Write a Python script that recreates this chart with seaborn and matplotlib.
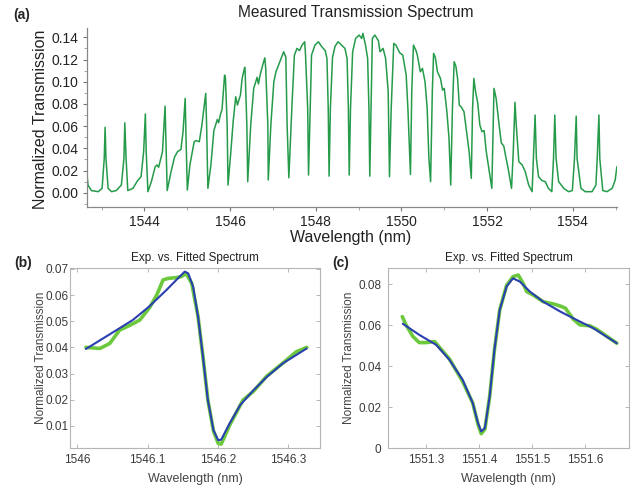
import numpy as np
import pandas as pd
import matplotlib
matplotlib.use("Agg")
import matplotlib.pyplot as plt
import seaborn as sns
from matplotlib.ticker import MultipleLocator

# (a) measured transmission spectrum
spec_wl = [
    1542.65, 1542.68, 1542.76, 1542.92, 1543.01, 1543.06, 1543.08, 1543.10, 1543.15, 1543.23,
    1543.34, 1543.46, 1543.52, 1543.54, 1543.57, 1543.61, 1543.73, 1543.84, 1543.92, 1543.98,
    1544.02, 1544.04, 1544.08, 1544.16, 1544.25, 1544.29, 1544.33, 1544.42, 1544.46, 1544.48,
    1544.50, 1544.53, 1544.62, 1544.70, 1544.77, 1544.85, 1544.90, 1544.95, 1544.97, 1545.00,
    1545.06, 1545.16, 1545.20, 1545.28, 1545.34, 1545.43, 1545.45, 1545.48, 1545.55, 1545.62,
    1545.66, 1545.70, 1545.73, 1545.77, 1545.81, 1545.87, 1545.89, 1545.93, 1545.95, 1546.01,
    1546.07, 1546.13, 1546.17, 1546.24, 1546.28, 1546.34, 1546.35, 1546.39, 1546.41, 1546.48,
    1546.55, 1546.63, 1546.66, 1546.70, 1546.76, 1546.81, 1546.83, 1546.88, 1546.89, 1546.95,
    1547.02, 1547.07, 1547.13, 1547.19, 1547.25, 1547.30, 1547.33, 1547.37, 1547.44, 1547.50,
    1547.56, 1547.62, 1547.68, 1547.74, 1547.76, 1547.81, 1547.83, 1547.87, 1547.90, 1547.98,
    1548.06, 1548.13, 1548.22, 1548.26, 1548.29, 1548.31, 1548.34, 1548.39, 1548.45, 1548.52,
    1548.60, 1548.68, 1548.73, 1548.76, 1548.78, 1548.81, 1548.86, 1548.93, 1549.01, 1549.07,
    1549.10, 1549.16, 1549.21, 1549.24, 1549.26, 1549.29, 1549.32, 1549.38, 1549.46, 1549.50,
    1549.57, 1549.63, 1549.69, 1549.72, 1549.76, 1549.82, 1549.87, 1549.96, 1550.03, 1550.07,
    1550.11, 1550.15, 1550.21, 1550.24, 1550.28, 1550.34, 1550.37, 1550.44, 1550.49, 1550.55,
    1550.60, 1550.64, 1550.68, 1550.72, 1550.75, 1550.79, 1550.84, 1550.91, 1550.96, 1551.00,
    1551.06, 1551.11, 1551.15, 1551.19, 1551.23, 1551.27, 1551.31, 1551.35, 1551.40, 1551.46,
    1551.52, 1551.58, 1551.63, 1551.66, 1551.69, 1551.73, 1551.78, 1551.83, 1551.88, 1551.93,
    1551.98, 1552.04, 1552.11, 1552.16, 1552.21, 1552.28, 1552.33, 1552.39, 1552.43, 1552.49,
    1552.57, 1552.61, 1552.65, 1552.68, 1552.74, 1552.82, 1552.89, 1552.97, 1553.05, 1553.08,
    1553.12, 1553.15, 1553.20, 1553.28, 1553.36, 1553.43, 1553.51, 1553.55, 1553.58, 1553.61,
    1553.67, 1553.79, 1553.90, 1553.99, 1554.04, 1554.08, 1554.10, 1554.19, 1554.29, 1554.45,
    1554.54, 1554.57, 1554.61, 1554.63, 1554.70, 1554.80, 1554.92, 1554.99, 1555.03,
]
spec_tr = [
    0.020, 0.007, 0.002, 0.001, 0.004, 0.031, 0.059, 0.031, 0.004, 0.001,
    0.002, 0.007, 0.031, 0.063, 0.031, 0.002, 0.004, 0.011, 0.0145, 0.037,
    0.071, 0.037, 0.001, 0.010, 0.0235, 0.025, 0.023, 0.037, 0.065, 0.078,
    0.049, 0.002, 0.019, 0.032, 0.037, 0.039, 0.055, 0.085, 0.049, 0.0025,
    0.025, 0.046, 0.047, 0.046, 0.061, 0.0895, 0.061, 0.004, 0.025, 0.056,
    0.061, 0.066, 0.063, 0.070, 0.075, 0.106, 0.103, 0.061, 0.007, 0.034,
    0.064, 0.0865, 0.079, 0.088, 0.103, 0.113, 0.109, 0.061, 0.010, 0.061,
    0.094, 0.104, 0.098, 0.106, 0.115, 0.1215, 0.112, 0.061, 0.0115, 0.061,
    0.100, 0.109, 0.115, 0.121, 0.127, 0.122, 0.061, 0.0135, 0.076, 0.124,
    0.130, 0.128, 0.133, 0.136, 0.124, 0.076, 0.016, 0.076, 0.124, 0.133,
    0.136, 0.132, 0.128, 0.121, 0.076, 0.015, 0.076, 0.122, 0.132, 0.136,
    0.133, 0.130, 0.121, 0.076, 0.016, 0.076, 0.127, 0.139, 0.142, 0.139,
    0.1435, 0.133, 0.121, 0.076, 0.015, 0.076, 0.139, 0.142, 0.137, 0.127,
    0.130, 0.121, 0.091, 0.0145, 0.076, 0.1345, 0.133, 0.126, 0.124, 0.115,
    0.106, 0.076, 0.0165, 0.091, 0.133, 0.128, 0.124, 0.109, 0.112, 0.100,
    0.076, 0.031, 0.010, 0.091, 0.1255, 0.122, 0.109, 0.103, 0.0925, 0.094,
    0.073, 0.049, 0.007, 0.076, 0.118, 0.114, 0.103, 0.079, 0.077, 0.073,
    0.055, 0.037, 0.013, 0.076, 0.103, 0.091, 0.081, 0.061, 0.055, 0.056,
    0.037, 0.022, 0.004, 0.094, 0.085, 0.061, 0.045, 0.042, 0.0335, 0.022,
    0.004, 0.037, 0.0815, 0.061, 0.028, 0.025, 0.019, 0.007, 0.001, 0.031,
    0.070, 0.031, 0.0145, 0.011, 0.010, 0.004, 0.001, 0.031, 0.070, 0.031,
    0.010, 0.004, 0.001, 0.002, 0.031, 0.069, 0.031, 0.004, 0.001, 0.001,
    0.007, 0.031, 0.070, 0.031, 0.002, 0.001, 0.004, 0.0115, 0.0235,
]

# (b) resonance near 1546.2 nm
b_exp_wl = [1546.012, 1546.032, 1546.046, 1546.060, 1546.075, 1546.089, 1546.103, 1546.113,
            1546.122, 1546.129, 1546.141, 1546.148, 1546.155, 1546.163, 1546.172, 1546.179,
            1546.186, 1546.194, 1546.2007, 1546.205, 1546.217, 1546.236, 1546.251, 1546.270,
            1546.293, 1546.312, 1546.327]
b_exp_tr = [0.0400, 0.0396, 0.0415, 0.0466, 0.0485, 0.0505, 0.0553, 0.0600,
            0.0658, 0.0664, 0.0667, 0.0671, 0.0683, 0.0645, 0.0517, 0.0364,
            0.0198, 0.0080, 0.0033, 0.0030, 0.0102, 0.0198, 0.0232, 0.0290,
            0.0340, 0.0383, 0.0400]
b_fit_wl = [1546.012, 1546.0556, 1546.079, 1546.103, 1546.127, 1546.141, 1546.153, 1546.158,
            1546.165, 1546.172, 1546.179, 1546.186, 1546.194, 1546.2007, 1546.205, 1546.217,
            1546.232, 1546.251, 1546.270, 1546.293, 1546.327]
b_fit_tr = [0.0394, 0.0466, 0.0505, 0.0558, 0.0620, 0.0658, 0.0690, 0.0683,
            0.0632, 0.0517, 0.0364, 0.0198, 0.0083, 0.0045, 0.0047, 0.0109,
            0.0179, 0.0236, 0.0287, 0.0339, 0.0396]

# (c) resonance near 1551.4 nm
c_exp_wl = [1551.255, 1551.262, 1551.275, 1551.287, 1551.300, 1551.316, 1551.344, 1551.369,
            1551.388, 1551.398, 1551.404, 1551.411, 1551.420, 1551.429, 1551.439, 1551.452,
            1551.464, 1551.474, 1551.483, 1551.490, 1551.502, 1551.521, 1551.540, 1551.553,
            1551.563, 1551.578, 1551.590, 1551.609, 1551.622, 1551.660]
c_exp_tr = [0.0642, 0.0602, 0.0545, 0.0515, 0.0515, 0.0520, 0.0435, 0.0325,
            0.0220, 0.0115, 0.0070, 0.0092, 0.0252, 0.0480, 0.0675, 0.0795,
            0.0837, 0.0845, 0.0805, 0.0764, 0.0748, 0.0715, 0.0704, 0.0694,
            0.0683, 0.0629, 0.0602, 0.0597, 0.0580, 0.0512]
c_fit_wl = [1551.256, 1551.287, 1551.319, 1551.344, 1551.369, 1551.388, 1551.398, 1551.404,
            1551.411, 1551.420, 1551.429, 1551.439, 1551.452, 1551.464, 1551.477, 1551.496,
            1551.521, 1551.553, 1551.584, 1551.616, 1551.660]
c_fit_tr = [0.0607, 0.0553, 0.0504, 0.0431, 0.0333, 0.0220, 0.0122, 0.0081,
            0.0098, 0.0252, 0.0480, 0.0675, 0.0789, 0.0829, 0.0813, 0.0764,
            0.0715, 0.0667, 0.0626, 0.0585, 0.0512]

b_xticks = [1546.0, 1546.1, 1546.2, 1546.3]
b_xticklabels = ["1546", "1546.1", "1546.2", "1546.3"]
b_yticks = [0.01, 0.02, 0.03, 0.04, 0.05, 0.06, 0.07]
c_xticks = [1551.3, 1551.4, 1551.5, 1551.6]
c_xticklabels = ["1551.3", "1551.4", "1551.5", "1551.6"]
c_yticks = [0, 0.02, 0.04, 0.06, 0.08]
c_yticklabels = ["0", "0.02", "0.04", "0.06", "0.08"]

sns.set_theme(style="ticks")
plt.rcParams["font.family"] = ["Liberation Sans", "DejaVu Sans"]

fig = plt.figure(figsize=(6.35, 4.9), dpi=100)

# ---- top panel ----
ax_a = fig.add_axes([0.1365, 0.578, 0.835, 0.364])
sns.lineplot(x=spec_wl, y=spec_tr, ax=ax_a, color="#259b4a", lw=1.1, estimator=None)
ax_a.set_xlim(1542.65, 1555.03)
ax_a.set_ylim(-0.0126, 0.148)
ax_a.xaxis.set_major_locator(MultipleLocator(2))
ax_a.xaxis.set_minor_locator(MultipleLocator(1))
ax_a.yaxis.set_major_locator(MultipleLocator(0.02))
ax_a.yaxis.set_minor_locator(MultipleLocator(0.01))
ax_a.yaxis.set_major_formatter(matplotlib.ticker.FormatStrFormatter("%.2f"))
ax_a.tick_params(axis="both", which="major", labelsize=10, length=3, width=0.8,
                 color="#777777", labelcolor="#222222", direction="out", pad=3)
ax_a.tick_params(axis="both", which="minor", length=2, width=0.6, color="#999999")
sns.despine(ax=ax_a)
for s in ["left", "bottom"]:
    ax_a.spines[s].set_color("#888888")
    ax_a.spines[s].set_linewidth(0.9)
ax_a.set_ylabel("Normalized Transmission", fontsize=11.5, color="#222222")
ax_a.set_xlabel("Wavelength (nm)", fontsize=11.5, color="#222222")
ax_a.yaxis.set_label_coords(-0.073, 0.49)
ax_a.xaxis.set_label_coords(0.497, -0.13)
fig.text(0.561, 0.9755, "Measured Transmission Spectrum", ha="center", va="center",
         fontsize=11.2, color="#222222")
fig.text(0.021, 0.969, "(a)", ha="left", va="center", fontsize=10, fontweight="bold")


def style_box(ax, ypad):
    for s in ax.spines.values():
        s.set_color("#b5b5b5")
        s.set_linewidth(0.8)
    ax.tick_params(axis="both", which="major", direction="in", top=True, right=True,
                   length=3, width=0.7, color="#b5b5b5", labelsize=8.5,
                   labelcolor="#3a3a3a", pad=4)
    ax.tick_params(axis="y", pad=ypad)
    ax.set_xlabel("Wavelength (nm)", fontsize=9, color="#444444")
    ax.set_ylabel("Normalized Transmission", fontsize=8.5, color="#444444")
    ax.text(0.5, 1.055, "Exp. vs. Fitted Spectrum", transform=ax.transAxes,
            ha="center", va="center", fontsize=8.5, color="#222222")


# ---- panel (b) ----
ax_b = fig.add_axes([0.111, 0.0857, 0.393, 0.368])
sns.lineplot(x=b_exp_wl, y=b_exp_tr, ax=ax_b, color="#6cc83c", lw=2.6, estimator=None)
sns.lineplot(x=b_fit_wl, y=b_fit_tr, ax=ax_b, color="#2a3fb0", lw=1.5, estimator=None)
ax_b.set_xlim(1545.99, 1546.346)
ax_b.set_ylim(0.0015, 0.0705)
ax_b.set_xticks(b_xticks)
ax_b.set_xticklabels(b_xticklabels)
ax_b.set_yticks(b_yticks)
ax_b.set_yticklabels([f"{v:.2f}" for v in b_yticks])
style_box(ax_b, 1.5)
ax_b.yaxis.set_label_coords(-0.095, 0.5)
ax_b.xaxis.set_label_coords(0.5, -0.14)
fig.text(0.023, 0.463, "(b)", ha="left", va="center", fontsize=10, fontweight="bold")

# ---- panel (c) ----
ax_c = fig.add_axes([0.6115, 0.0857, 0.379, 0.368])
sns.lineplot(x=c_exp_wl, y=c_exp_tr, ax=ax_c, color="#6cc83c", lw=2.6, estimator=None)
sns.lineplot(x=c_fit_wl, y=c_fit_tr, ax=ax_c, color="#2a3fb0", lw=1.5, estimator=None)
ax_c.set_xlim(1551.2286, 1551.683)
ax_c.set_ylim(0, 0.0881)
ax_c.set_xticks(c_xticks)
ax_c.set_xticklabels(c_xticklabels)
ax_c.set_yticks(c_yticks)
ax_c.set_yticklabels(c_yticklabels)
style_box(ax_c, 5)
ax_c.yaxis.set_label_coords(-0.138, 0.5)
ax_c.xaxis.set_label_coords(0.5, -0.14)
fig.text(0.523, 0.463, "(c)", ha="left", va="center", fontsize=10, fontweight="bold")

fig.savefig("out.png", dpi=100)
